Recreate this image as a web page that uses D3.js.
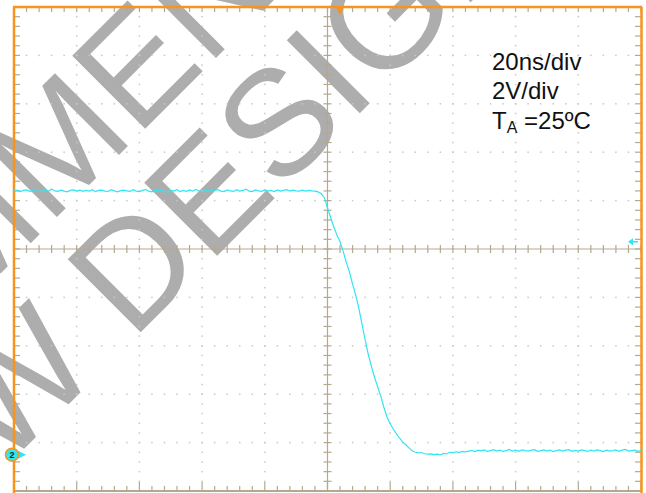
<!DOCTYPE html>
<html><head><meta charset="utf-8">
<script src="https://cdn.jsdelivr.net/npm/d3@7"></script>
<style>html,body{margin:0;padding:0;background:#fff;} svg{display:block;}</style>
</head><body>
<svg id="c" width="646" height="493"></svg>
<script>
// ---- data ----
const timeDomain = [-100, 100];      // ns (20 ns/div, 10 div)
const voltDomain = [-1.5, 18.5];     // V  (2 V/div, 10 div)
const timePerDiv = 20;
const voltPerDiv = 2;
const highStart = -100;              // ns, first sample of high level
const sampleStep = 1;                // ns between samples
const highLevel = [
10.89,10.93,10.87,10.92,10.94,10.88,10.91,10.97,10.90,10.87,
10.93,10.89,10.98,10.90,10.88,10.93,10.89,10.86,10.92,10.94,
10.89,10.93,10.88,10.92,10.89,10.95,10.87,10.92,10.93,10.89,
10.88,10.95,10.90,10.86,10.91,10.93,10.90,10.88,10.95,10.89,
10.87,10.92,10.96,10.89,10.86,10.93,10.89,10.95,10.88,10.85,
10.92,10.89,10.95,10.87,10.92,10.88,10.94,10.89,10.96,10.90,
10.87,10.91,10.94,10.88,10.92,10.95,10.89,10.87,10.94,10.90,
10.88,10.95,10.89,10.92,10.97,10.89,10.87,10.94,10.90,10.88,
10.95,10.89,10.92,10.87,10.94,10.89,10.92,10.95,10.89,10.93,
10.90,10.89,10.93,10.89,10.92,10.90];
const edgeTime = [-4,-3,-2,-1,0,1,2,3,4,5,6,7,8,9,10,11,12,13,14,15,16,17,18,19,20,21,22,23,24,25,26,27,28,29,30,31,32,33,34,35,36,37,38,39,40,41,42,43,44];
const edgeVolt = [10.89,10.86,10.78,10.62,10.2,9.8,9.42,9.08,8.8,8.4,7.95,7.55,7.05,6.6,6.05,5.4,4.75,4.15,3.65,3.2,2.8,2.42,1.95,1.55,1.28,1.06,0.86,0.68,0.52,0.41,0.28,0.16,0.10,0.08,0.09,0.04,0.02,0.03,0.0,0.02,-0.01,0.05,0.03,0.10,0.08,0.12,0.10,0.14,0.12];
const lowStart = 45;
const lowLevel = [
0.15,0.18,0.13,0.19,0.16,0.20,0.14,0.17,0.21,0.15,
0.19,0.14,0.17,0.22,0.15,0.19,0.14,0.20,0.17,0.15,
0.19,0.21,0.14,0.17,0.20,0.15,0.19,0.13,0.17,0.20,
0.15,0.19,0.21,0.14,0.18,0.15,0.20,0.17,0.14,0.19,
0.15,0.20,0.17,0.13,0.19,0.15,0.17,0.20,0.14,0.19,
0.22,0.15,0.17,0.19,0.14,0.17];
const triggerTime = 4;     // ns
const triggerLevel = 8.8;  // V
const groundLevel = 0;     // V
const channelLabel = "2";
const infoLines = ["20ns/div", "2V/div"];
const tempLabel = ["T", "A", " =25ºC"];
const watermarkLines = ["NOT RECOMMENDED FOR", "NEW DESIGN"];

// ---- layout ----
const svg = d3.select("#c");
const L = 14, R = 641, T = 7, B = 491;
const x = d3.scaleLinear().domain(timeDomain).range([L, R]);
const y = d3.scaleLinear().domain(voltDomain).range([B, T]);
const orange = "#f7941d", tan = "#b3a98f", cyan = "#2fe6f2", dotc = "#c8c8c8";

svg.append("rect").attr("width", 646).attr("height", 493).attr("fill", "#fff");

// watermark
const wm = svg.append("g").attr("fill", "#adadad")
  .style("font-family", "'Liberation Sans', Arial, sans-serif").style("font-size", "150px");
const wmPos = [[-598, 872], [-145, 618]];
watermarkLines.forEach((t, i) => {
  wm.append("text").attr("transform", `translate(${wmPos[i][0]},${wmPos[i][1]}) rotate(-45)`).text(t);
});

const nDiv = 10, nMinor = 5;
const majorT = d3.range(0, nDiv + 1).map(i => timeDomain[0] + i * timePerDiv);
const majorV = d3.range(0, nDiv + 1).map(i => voltDomain[0] + i * voltPerDiv);
const minorT = d3.range(0, nDiv * nMinor + 1).map(i => timeDomain[0] + i * timePerDiv / nMinor);
const minorV = d3.range(0, nDiv * nMinor + 1).map(i => voltDomain[0] + i * voltPerDiv / nMinor);
const cT = majorT[5], cV = majorV[5];

// dotted grid
const g = svg.append("g");
const dots = [];
majorT.slice(1, -1).filter(t => t !== cT).forEach(t => minorV.forEach(v => dots.push([t, v])));
majorV.slice(1, -1).filter(v => v !== cV).forEach(v => minorT.forEach(t => dots.push([t, v])));
g.selectAll("rect.dot").data(dots).join("rect").attr("class", "dot")
  .attr("x", d => x(d[0]) - 0.75).attr("y", d => y(d[1]) - 0.75)
  .attr("width", 1.5).attr("height", 1.5).attr("fill", dotc);

// center axes
const ax = svg.append("g").attr("stroke", tan).attr("stroke-width", 1.2).attr("fill", "none");
ax.append("line").attr("x1", x(cT)).attr("x2", x(cT)).attr("y1", T).attr("y2", B);
ax.append("line").attr("x1", L).attr("x2", R).attr("y1", y(cV)).attr("y2", y(cV));
ax.selectAll("line.cvt").data(minorV).join("line").attr("class", "cvt")
  .attr("x1", x(cT) - 4).attr("x2", x(cT) + 4).attr("y1", d => y(d)).attr("y2", d => y(d));
ax.selectAll("line.cht").data(minorT).join("line").attr("class", "cht")
  .attr("y1", y(cV) - 4).attr("y2", y(cV) + 4).attr("x1", d => x(d)).attr("x2", d => x(d));

// edge ticks
const et = svg.append("g").attr("stroke", tan).attr("stroke-width", 1.2);
const isMajT = t => majorT.some(m => Math.abs(m - t) < 1e-6);
et.selectAll("line.tt").data(minorT).join("line").attr("class", "tt")
  .attr("x1", d => x(d)).attr("x2", d => x(d)).attr("y1", T).attr("y2", T + 5);
et.selectAll("line.bt").data(minorT).join("line").attr("class", "bt")
  .attr("x1", d => x(d)).attr("x2", d => x(d)).attr("y1", B).attr("y2", d => B - (isMajT(d) ? 9 : 5));
et.selectAll("line.lt").data(minorV).join("line").attr("class", "lt")
  .attr("y1", d => y(d)).attr("y2", d => y(d)).attr("x1", L).attr("x2", L + 6);
et.selectAll("line.rt").data(minorV).join("line").attr("class", "rt")
  .attr("y1", d => y(d)).attr("y2", d => y(d)).attr("x1", R).attr("x2", R - 6);
svg.append("line").attr("x1", L).attr("x2", R).attr("y1", B).attr("y2", B)
  .attr("stroke", tan).attr("stroke-width", 2);

// orange frame
const fr = svg.append("g").attr("stroke", orange).attr("stroke-width", 2.5);
fr.append("line").attr("x1", L - 1).attr("x2", R + 1).attr("y1", T).attr("y2", T);
fr.append("line").attr("x1", L).attr("x2", L).attr("y1", T).attr("y2", 493);
fr.append("line").attr("x1", R + 0.5).attr("x2", R + 0.5).attr("y1", T).attr("y2", 493);

// trace
const pts = [];
highLevel.forEach((v, i) => pts.push([highStart + i * sampleStep, v]));
edgeTime.forEach((t, i) => pts.push([t, edgeVolt[i]]));
lowLevel.forEach((v, i) => pts.push([lowStart + i * sampleStep, v]));
svg.append("path").datum(pts)
  .attr("d", d3.line().x(d => x(d[0])).y(d => y(d[1])))
  .attr("fill", "none").attr("stroke", cyan).attr("stroke-width", 1.2);

// trigger time marker
const tx = x(triggerTime);
svg.append("path").attr("d", `M${tx - 4},${T} L${tx + 4},${T} L${tx},${T + 8} Z`).attr("fill", orange);

// trigger level marker (right)
const ty = y(triggerLevel);
svg.append("line").attr("x1", R - 11).attr("x2", R - 3).attr("y1", ty).attr("y2", ty)
  .attr("stroke", cyan).attr("stroke-width", 1.5);
svg.append("path").attr("d", `M${R - 13},${ty} L${R - 8},${ty - 3.5} L${R - 8},${ty + 3.5} Z`).attr("fill", cyan);

// ground marker (left)
const gy = y(groundLevel);
svg.append("path").attr("d", `M${L + 4},${gy - 4} L${L + 12},${gy} L${L + 4},${gy + 4} Z`).attr("fill", cyan);
svg.append("circle").attr("cx", L - 2).attr("cy", gy).attr("r", 6.5)
  .attr("fill", cyan).attr("stroke", orange).attr("stroke-width", 1.5);
svg.append("text").attr("x", L - 2).attr("y", gy + 3).attr("text-anchor", "middle")
  .style("font-family", "'Liberation Sans', Arial, sans-serif").style("font-size", "9px")
  .style("font-weight", "bold").attr("fill", "#123").text(channelLabel);

// info text
const info = svg.append("g").attr("fill", "#111")
  .style("font-family", "'Liberation Sans', Arial, sans-serif").style("font-size", "24px");
infoLines.forEach((t, i) => info.append("text").attr("x", 492).attr("y", 69.5 + i * 29.7).text(t));
const tt = info.append("text").attr("x", 492).attr("y", 129.2);
tt.append("tspan").text(tempLabel[0]);
tt.append("tspan").attr("dy", 4).style("font-size", "16px").text(tempLabel[1]);
tt.append("tspan").attr("dy", -4).text(tempLabel[2]);
</script>
</body></html>
